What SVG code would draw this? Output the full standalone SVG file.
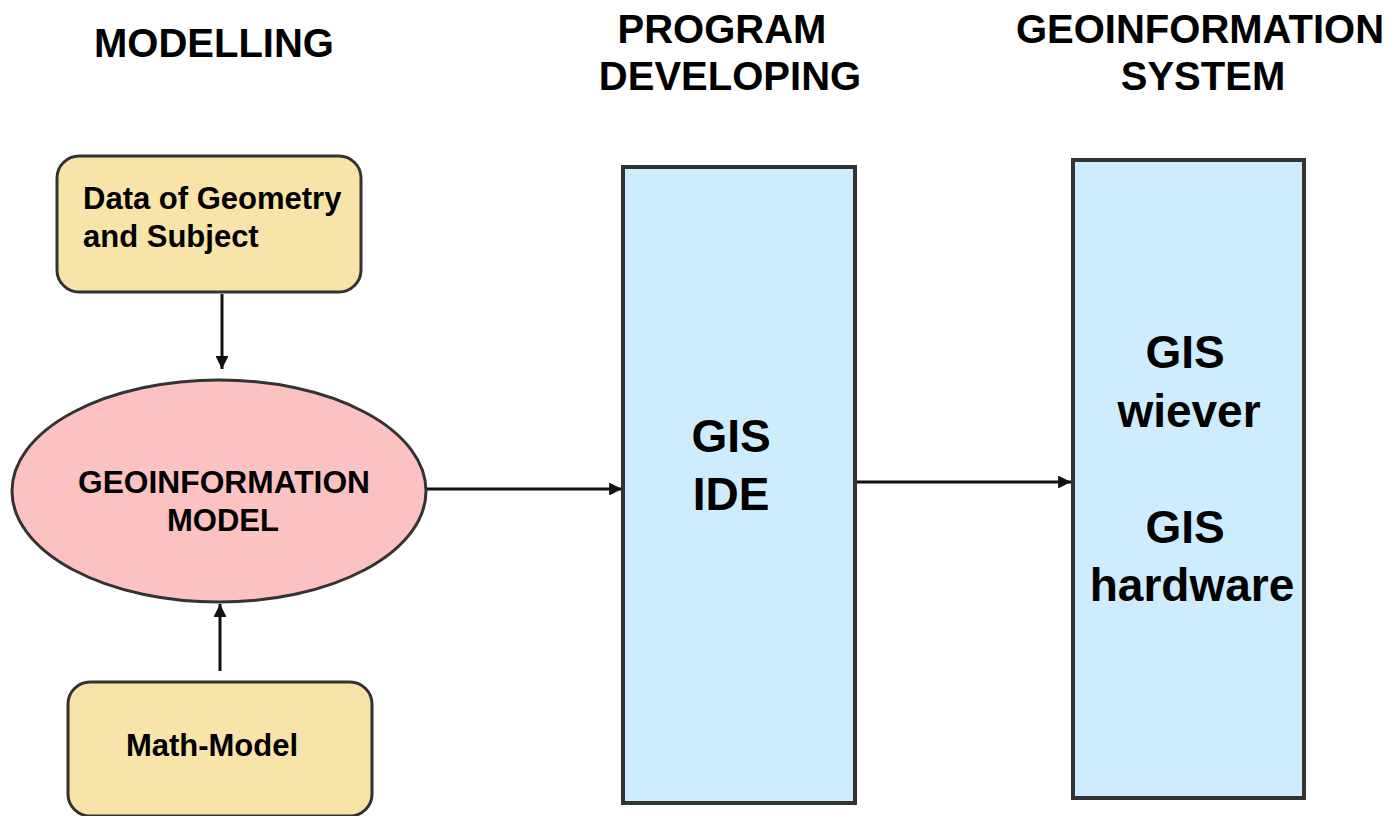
<svg xmlns="http://www.w3.org/2000/svg" width="1398" height="816" viewBox="0 0 1398 816">
  <style>
    .head { font-family: "Liberation Sans", Arial, sans-serif; font-weight: bold; font-size: 40px; fill: #000; text-anchor: middle; }
    .small { font-family: "Liberation Sans", Arial, sans-serif; font-weight: bold; font-size: 31px; fill: #000; }
    .big { font-family: "Liberation Sans", Arial, sans-serif; font-weight: bold; font-size: 46px; fill: #000; text-anchor: middle; }
    .tan { fill: #f8e3a8; stroke: #333; stroke-width: 3; }
    .pink { fill: #fcc1c1; stroke: #333; stroke-width: 3; }
    .blue { fill: #cdecfd; stroke: #333; stroke-width: 4; }
    .conn { stroke: #111; stroke-width: 3; fill: none; marker-end: url(#arrow); }
  </style>
  <defs>
    <marker id="arrow" viewBox="0 0 10 10" refX="10" refY="5" markerWidth="4.3" markerHeight="4.3" orient="auto" markerUnits="strokeWidth">
      <path d="M0,0 L10,5 L0,10 z" fill="#111"/>
    </marker>
  </defs>
  <rect width="1398" height="816" fill="#fff"/>

  <!-- column headings -->
  <g id="headings">
    <text class="head" x="214" y="57">MODELLING</text>
    <text class="head" x="722" y="43">PROGRAM</text>
    <text class="head" x="730" y="90">DEVELOPING</text>
    <text class="head" x="1200" y="43">GEOINFORMATION</text>
    <text class="head" x="1203" y="90">SYSTEM</text>
  </g>

  <!-- connectors -->
  <g id="connectors">
    <line class="conn" x1="222" y1="294" x2="222" y2="369"/>
    <line class="conn" x1="220" y1="671" x2="220" y2="604"/>
    <line class="conn" x1="426" y1="489" x2="622" y2="489"/>
    <line class="conn" x1="857" y1="482" x2="1071" y2="482"/>
  </g>

  <g id="data-node">
    <rect class="tan" x="57" y="156" width="304" height="136" rx="22" ry="22"/>
    <text class="small" x="83" y="209">Data of Geometry</text>
    <text class="small" x="83" y="247">and Subject</text>
  </g>

  <g id="model-node">
    <ellipse class="pink" cx="219" cy="491" rx="207" ry="111"/>
    <text class="small" x="224" y="493" text-anchor="middle" textLength="292" lengthAdjust="spacingAndGlyphs">GEOINFORMATION</text>
    <text class="small" x="223" y="531" text-anchor="middle">MODEL</text>
  </g>

  <g id="math-node">
    <rect class="tan" x="68" y="682" width="304" height="134" rx="22" ry="22"/>
    <text class="small" x="212" y="756" text-anchor="middle">Math-Model</text>
  </g>

  <g id="ide-node">
    <rect class="blue" x="623" y="167" width="232" height="636"/>
    <text class="big" x="731" y="452">GIS</text>
    <text class="big" x="731" y="510">IDE</text>
  </g>

  <g id="gis-node">
    <rect class="blue" x="1073" y="160" width="231" height="638"/>
    <text class="big" x="1185" y="368">GIS</text>
    <text class="big" x="1189" y="427">wiever</text>
    <text class="big" x="1185" y="543">GIS</text>
    <text class="big" x="1192" y="601">hardware</text>
  </g>
</svg>
